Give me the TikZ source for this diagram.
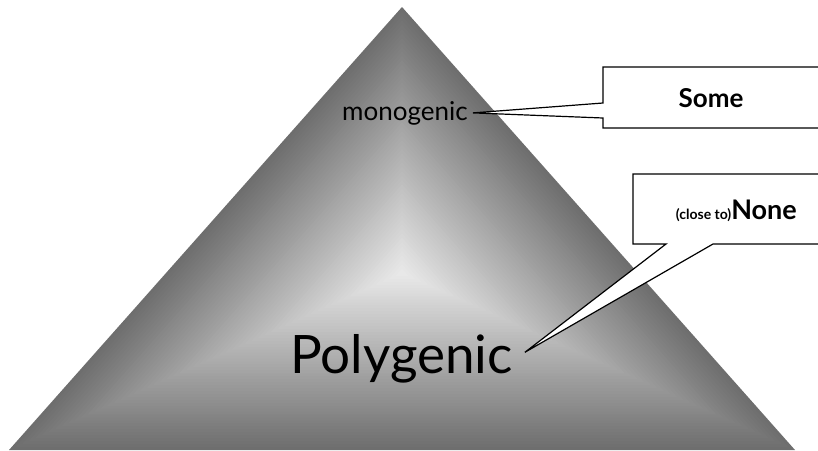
\documentclass[tikz,border=0pt]{standalone}
\usepackage{fontspec}
\setmainfont{Lato}
\usetikzlibrary{calc,positioning}

\begin{document}
\begin{tikzpicture}[x=1pt,y=-1pt,
   callout/.style={draw=black,fill=white,line width=1.2pt,line join=miter},
   lbl/.style={inner sep=0pt,text=black}]
  \useasboundingbox (0,0) rectangle (818,450);
  \clip (0,0) rectangle (818,450);
  % pyramid, lighter towards the middle
  \coordinate (apex) at (402,7);
  \coordinate (bl) at (9,450);
  \coordinate (br) at (795,450);
  \coordinate (mid) at (402,273);
  \foreach \i in {0,...,59}{
    \pgfmathsetmacro\f{1-\i/60}
    \pgfmathsetmacro\c{57-48*\i/59}
    \fill[black!\c] ($(mid)!\f!(apex)$) -- ($(mid)!\f!(bl)$) -- ($(mid)!\f!(br)$) -- cycle;
  }
  \node[lbl,font=\fontsize{26}{29}\selectfont,anchor=base west] (mono) at (342,120) {monogenic};
  \node[lbl,font=\fontsize{53}{56}\selectfont,anchor=base west] (poly) at (290,373) {Polygenic};
  \coordinate (mtip) at ($(mono.east)+(5,0)$);
  \coordinate (ptip) at ($(poly.east)+(12,-6)$);
  % callouts
  \draw[callout] (603,67) -- (822,67) -- (822,128) -- (603,128) -- (603,118)
    -- (mtip) -- (603,103) -- cycle;
  \draw[callout] (633,174) -- (822,174) -- (822,244) -- (713,244) -- (ptip)
    -- (666,244) -- (633,244) -- cycle;
  \node[lbl,font=\bfseries\fontsize{26}{28}\selectfont] (some) at (711,98) {Some};
  \node[lbl,anchor=base east,font=\bfseries] (none) at (797,219)
    {{\fontsize{14}{16}\selectfont (close to)}{\fontsize{27}{30}\selectfont None}};
\end{tikzpicture}
\end{document}
